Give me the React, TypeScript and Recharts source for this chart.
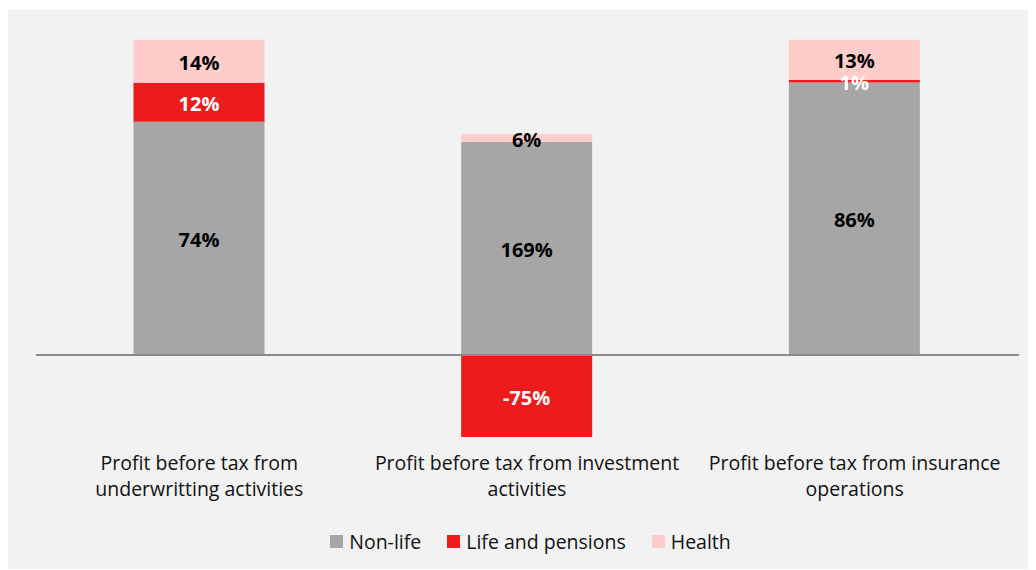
import { BarChart, Bar, XAxis, YAxis, LabelList } from 'recharts';

// categories (two-line tick labels)
const categories = [
  ['Profit before tax from', 'underwritting activities'],
  ['Profit before tax from investment', 'activities'],
  ['Profit before tax from insurance', 'operations'],
];

// bar heights as drawn (share of the column)
const nonLife = [73.9, 67.5, 86.4];
const lifePensions = [12.4, -26, 0.8];
const health = [13.7, 2.5, 12.8];

// printed labels
const nonLifeLabels = ['74%', '169%', '86%'];
const lifeLabels = ['12%', '-75%', '1%'];
const healthLabels = ['14%', '6%', '13%'];

const FONT = '"Open Sans", "Noto Sans", sans-serif';
const GREY = '#a6a6a6';
const RED = '#ed1c1c';
const PINK = '#ffcccc';

const MARGIN = { top: 29.5, right: 17.5, bottom: 59.35, left: 28.5 };
const W = 1029;
const H = 559;
const AXIS_H = 60;
const Y_DOMAIN = [-30, 100];

const data = categories.map((c, i) => ({
  name: c.join(' '),
  idx: i,
  nonLife: nonLife[i],
  life: lifePensions[i],
  health: health[i],
}));

const CategoryTick = (props: any) => {
  const { x, y, index } = props;
  const lines = categories[index] || [];
  return (
    <g>
      {lines.map((l, k) => (
        <text
          key={k}
          x={x}
          y={y + 20 + k * 26.5}
          textAnchor="middle"
          fontSize={19.5}
          fontFamily={FONT}
          fill="#111"
        >
          {l}
        </text>
      ))}
    </g>
  );
};

const legendItems = [
  { label: 'Non-life', color: GREY },
  { label: 'Life and pensions', color: RED },
  { label: 'Health', color: PINK },
];

const makeLabel = (labels: string[], color: string) => (props: any) => {
  const { x, y, width, height, index } = props;
  const cx = x + width / 2;
  const cy = y + height / 2;
  return (
    <text
      x={cx}
      y={cy + 1}
      textAnchor="middle"
      dominantBaseline="central"
      fontSize={20}
      fontWeight={700}
      fontFamily={FONT}
      fill={color}
    >
      {labels[index]}
    </text>
  );
};

// zero line position from the same y domain / plot area
const plotH = H - MARGIN.top - MARGIN.bottom - AXIS_H;
const zeroY = MARGIN.top + (Y_DOMAIN[1] / (Y_DOMAIN[1] - Y_DOMAIN[0])) * plotH;

export default function App() {
  return (
    <div style={{ position: 'relative', margin: '2px 0 0 -1px', width: W, height: H, background: '#f2f2f2' }}>
      <BarChart
        width={W}
        height={H}
        data={data}
        stackOffset="sign"
        barSize={131}
        margin={MARGIN}
      >
        <XAxis
          dataKey="name"
          axisLine={false}
          tickLine={false}
          tickSize={0}
          tickMargin={0}
          height={AXIS_H}
          interval={0}
          tick={<CategoryTick />}
        />
        <YAxis hide domain={Y_DOMAIN} allowDataOverflow />
        <Bar dataKey="nonLife" stackId="a" fill={GREY} isAnimationActive={false}>
          <LabelList dataKey="nonLife" content={makeLabel(nonLifeLabels, '#000')} />
        </Bar>
        <Bar dataKey="life" stackId="a" fill={RED} isAnimationActive={false}>
          <LabelList dataKey="life" content={makeLabel(lifeLabels, '#fff')} />
        </Bar>
        <Bar dataKey="health" stackId="a" fill={PINK} isAnimationActive={false}>
          <LabelList dataKey="health" content={makeLabel(healthLabels, '#000')} />
        </Bar>
      </BarChart>
      <div
        style={{
          position: 'absolute',
          left: MARGIN.left,
          width: W - MARGIN.left - MARGIN.right,
          top: zeroY - 1,
          height: 2,
          background: '#8c8c8c',
        }}
      />
      <div
        style={{
          position: 'absolute',
          left: 18,
          right: 0,
          top: 518,
          display: 'flex',
          justifyContent: 'center',
          alignItems: 'center',
          fontFamily: FONT,
          fontSize: 19.5,
          color: '#111',
        }}
      >
        {legendItems.map((it) => (
          <div key={it.label} style={{ display: 'flex', alignItems: 'center', margin: '0 13px' }}>
            <span style={{ width: 13, height: 13, background: it.color, display: 'inline-block', marginRight: 6 }} />
            <span>{it.label}</span>
          </div>
        ))}
      </div>
    </div>
  );
}
